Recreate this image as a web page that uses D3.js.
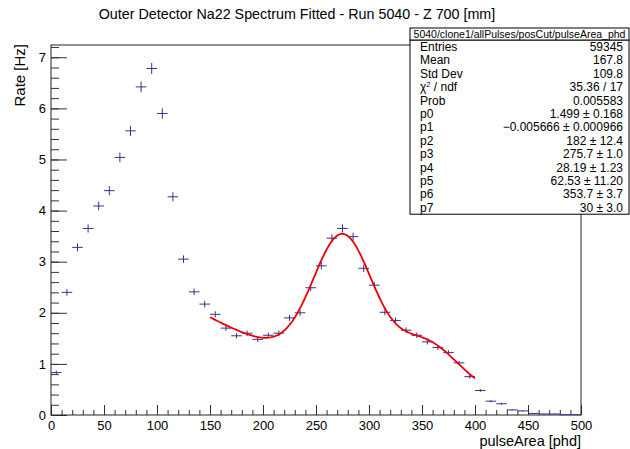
<!DOCTYPE html>
<html>
<head>
  <meta charset="utf-8">
  <title>Na22 Spectrum</title>
  <style>
    body { margin: 0; background: #fff; }
    svg { display: block; font-family: "Liberation Sans", Arial, sans-serif; }
  </style>
</head>
<body>
  <svg width="630" height="449"></svg>
  <script src="https://d3js.org/d3.v7.min.js"></script>
  <script>
    // bin centres [phd], bin width 10
    const binCenters = [5, 15, 25, 35, 45, 55, 65, 75, 85, 95,
      105, 115, 125, 135, 145, 155, 165, 175, 185, 195,
      205, 215, 225, 235, 245, 255, 265, 275, 285, 295,
      305, 315, 325, 335, 345, 355, 365, 375, 385, 395,
      405, 415, 425, 435, 445, 455, 465, 475, 485, 495];
    // rate [Hz]
    const rates = [0.83, 2.40, 3.28, 3.65, 4.09, 4.39, 5.04, 5.56, 6.42, 6.78,
      5.90, 4.27, 3.05, 2.41, 2.17, 1.97, 1.70, 1.55, 1.60, 1.48,
      1.56, 1.60, 1.90, 2.00, 2.49, 2.92, 3.46, 3.65, 3.49, 2.87,
      2.54, 2.01, 1.85, 1.66, 1.56, 1.43, 1.32, 1.22, 1.02, 0.75,
      0.48, 0.27, 0.22, 0.10, 0.08, 0.03, 0.02, 0.02, 0.005, 0.005];
    const rateErrors = [0.038, 0.065, 0.076, 0.080, 0.085, 0.088, 0.094, 0.099, 0.106, 0.109,
      0.102, 0.087, 0.073, 0.065, 0.062, 0.059, 0.055, 0.052, 0.053, 0.051,
      0.052, 0.053, 0.058, 0.059, 0.066, 0.072, 0.078, 0.080, 0.078, 0.071,
      0.067, 0.060, 0.057, 0.054, 0.052, 0.050, 0.048, 0.046, 0.042, 0.036,
      0.029, 0.022, 0.020, 0.013, 0.012, 0.007, 0.006, 0.006, 0.003, 0.003];

    // fit: expo(p0,p1) + gaus area p2 (p3,p4) + gaus area p5 (p6,p7), range 150-400
    const fitParams = [1.499, -0.005666, 182, 275.7, 28.19, 62.53, 353.7, 30];
    const fitRange = [150, 400];

    const statLabels = ["Entries", "Mean", "Std Dev", "chi", "Prob",
      "p0", "p1", "p2", "p3", "p4", "p5", "p6", "p7"];
    const statValues = ["59345", "167.8", "109.8", "35.36 / 17", "0.005583",
      "1.499 \u00b1 0.168", "\u22120.005666 \u00b1 0.000966", "182 \u00b1 12.4",
      "275.7 \u00b1 1.0", "28.19 \u00b1 1.23", "62.53 \u00b1 11.20",
      "353.7 \u00b1 3.7", "30 \u00b1 3.0"];

    const svg = d3.select("svg");
    const fLeft = 51, fRight = 581, fTop = 45, fBottom = 415;
    const x = d3.scaleLinear().domain([0, 500]).range([fLeft, fRight]);
    const y = d3.scaleLinear().domain([0, 7.24]).range([fBottom, fTop]);

    // axes with ROOT style inward ticks
    const xMinor = d3.axisBottom(x).tickValues(d3.range(0, 501, 10)).tickSize(-5).tickFormat("");
    const xMajor = d3.axisBottom(x).tickValues(d3.range(0, 501, 50)).tickSize(-10).tickPadding(6);
    const yMinor = d3.axisLeft(y).tickValues(d3.range(0, 7.21, 0.2)).tickSize(-8).tickFormat("");
    const yMajor = d3.axisLeft(y).tickValues(d3.range(0, 8, 1)).tickSize(-16).tickPadding(5);

    [xMinor, xMajor].forEach(a => svg.append("g").attr("transform", `translate(0,${fBottom})`).call(a));
    [yMinor, yMajor].forEach(a => svg.append("g").attr("transform", `translate(${fLeft},0)`).call(a));
    svg.selectAll(".domain").remove();
    svg.selectAll(".tick line").attr("stroke", "#333");
    svg.selectAll(".tick text").attr("font-size", 13).attr("fill", "#000")
      .attr("font-family", "Liberation Sans, Arial, sans-serif");

    // frame
    svg.append("rect").attr("x", fLeft).attr("y", fTop)
      .attr("width", fRight - fLeft).attr("height", fBottom - fTop)
      .attr("fill", "none").attr("stroke", "#222").attr("stroke-width", 1);

    // data points with error bars
    const pts = svg.append("g").attr("stroke", "#34348e").attr("stroke-width", 1);
    binCenters.forEach((c, i) => {
      pts.append("line").attr("x1", x(c - 5)).attr("x2", x(c + 5))
        .attr("y1", y(rates[i])).attr("y2", y(rates[i]));
      pts.append("line").attr("x1", x(c)).attr("x2", x(c))
        .attr("y1", y(rates[i] - rateErrors[i])).attr("y2", y(rates[i] + rateErrors[i]));
    });

    // fit curve
    function gaus(v, area, mu, sig) {
      return area / (Math.sqrt(2 * Math.PI) * sig) * Math.exp(-((v - mu) ** 2) / (2 * sig * sig));
    }
    function fitFn(v) {
      const p = fitParams;
      return Math.exp(p[0] + p[1] * v) + gaus(v, p[2], p[3], p[4]) + gaus(v, p[5], p[6], p[7]);
    }
    const fitXs = d3.range(fitRange[0], fitRange[1] + 0.5, 1);
    svg.append("path").datum(fitXs)
      .attr("d", d3.line().x(d => x(d)).y(d => y(fitFn(d))))
      .attr("fill", "none").attr("stroke", "#ee0000").attr("stroke-width", 1.8);

    // titles
    svg.append("text").attr("x", 297).attr("y", 19).attr("text-anchor", "middle")
      .attr("font-size", 14.3).text("Outer Detector Na22 Spectrum Fitted - Run 5040 - Z 700 [mm]");
    svg.append("text").attr("x", fRight).attr("y", 446).attr("text-anchor", "end")
      .attr("font-size", 14.5).text("pulseArea [phd]");
    svg.append("text").attr("transform", `translate(25,${fTop - 1}) rotate(-90)`)
      .attr("text-anchor", "end").attr("font-size", 15).text("Rate [Hz]");

    // stats box
    const bx = 410, bw = 219, hy = 28, hh = 12, rowH = 13.4;
    const boxBottom = hy + hh + rowH * statLabels.length;
    svg.append("rect").attr("x", bx).attr("y", hy + hh).attr("width", bw)
      .attr("height", boxBottom - hy - hh).attr("fill", "#fff").attr("stroke", "#000");
    svg.append("rect").attr("x", bx).attr("y", hy).attr("width", bw).attr("height", hh)
      .attr("fill", "#fff").attr("stroke", "#000");
    svg.append("text").attr("x", bx + bw / 2).attr("y", hy + 10).attr("text-anchor", "middle")
      .attr("font-size", 10.5).text("5040/clone1/allPulses/posCut/pulseArea_phd");
    statLabels.forEach((lab, i) => {
      const by = hy + hh + rowH * (i + 0.5) + 4.3;
      const t = svg.append("text").attr("x", bx + 10).attr("y", by).attr("font-size", 12);
      if (lab === "chi") {
        t.append("tspan").text("\u03c7");
        t.append("tspan").attr("font-size", 7.5).attr("dy", -3.8).text("2");
        t.append("tspan").attr("dy", 3.8).text(" / ndf");
      } else {
        t.text(lab);
      }
      svg.append("text").attr("x", bx + bw - 6).attr("y", by).attr("text-anchor", "end")
        .attr("font-size", 12).text(statValues[i]);
    });
  </script>
</body>
</html>
